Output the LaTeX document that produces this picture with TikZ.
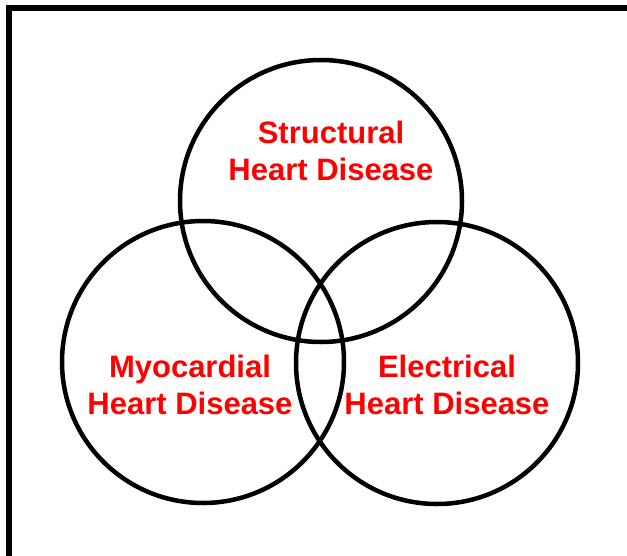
\documentclass[tikz,border=0pt]{standalone}
\usepackage{fontspec}
\setmainfont{Liberation Sans}
\begin{document}
\begin{tikzpicture}[x=1pt,y=-1pt,
  ring/.style={draw=black,line width=4.5pt},
  lbl/.style={anchor=base,inner sep=0pt,text=red,font=\fontsize{31}{37}\selectfont\bfseries}]
\useasboundingbox (0,0) rectangle (627,555);
\clip (0,0) rectangle (627,555);
\draw[line width=6pt] (9,8) rectangle (660,600);
\node[ring,circle,minimum size=282pt,inner sep=0pt] (top) at (321,201) {};
\node[ring,circle,minimum size=282pt,inner sep=0pt] (left) at (203,362) {};
\node[ring,circle,minimum size=282pt,inner sep=0pt] (right) at (437,363) {};
\node[lbl] (s1) at (331,143) {Structural};
\node[lbl] (s2) at (331,180) {Heart Disease};
\node[lbl] (m1) at (190,377) {Myocardial};
\node[lbl] (m2) at (190,414) {Heart Disease};
\node[lbl] (e1) at (447,377) {Electrical};
\node[lbl] (e2) at (447,414) {Heart Disease};
\end{tikzpicture}
\end{document}
